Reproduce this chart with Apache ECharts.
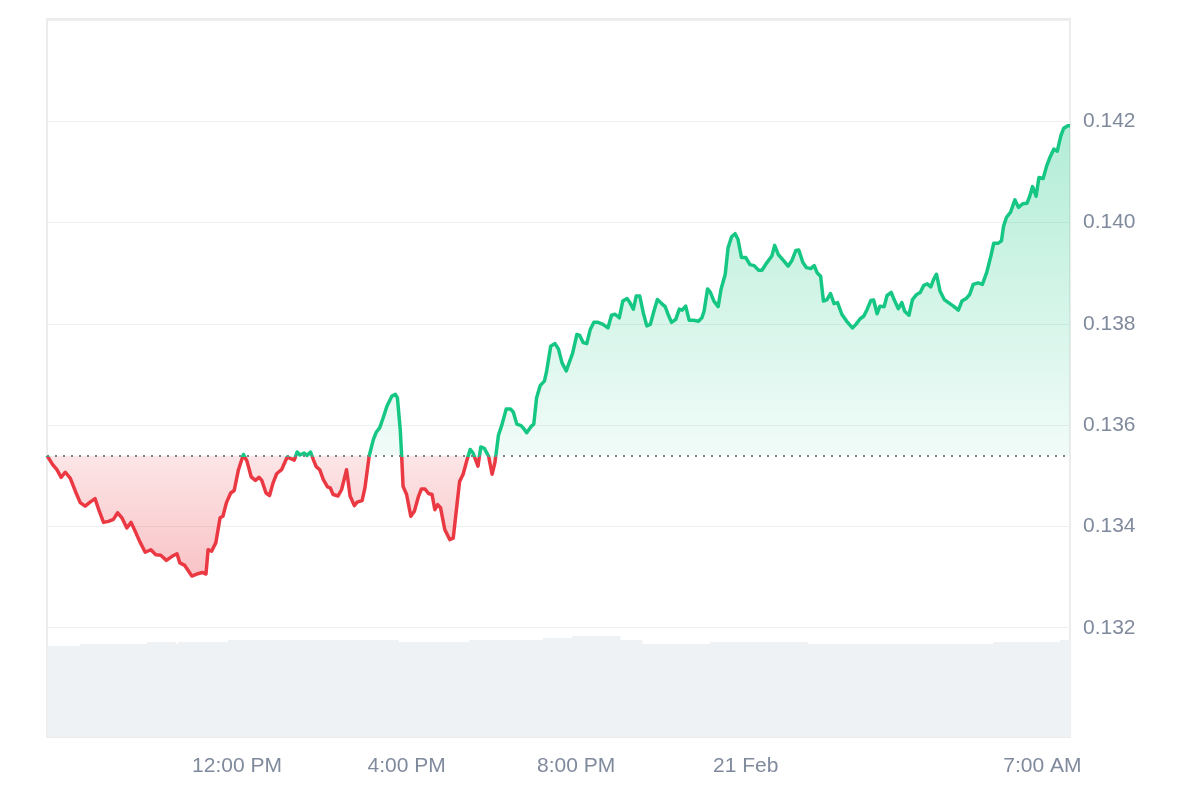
<!DOCTYPE html>
<html>
<head>
<meta charset="utf-8">
<script src="https://cdn.jsdelivr.net/npm/echarts@6/dist/echarts.min.js"></script>
<style>
html,body{margin:0;padding:0;background:#ffffff;}
#chart{width:1200px;height:800px;}
</style>
</head>
<body>
<div id="chart"></div>
<script>
// Time of each price reading, minutes since 20 Feb 00:00
const timeMinutes = [
  451, 459, 465, 471, 477, 484, 491, 498, 505, 512,
  519, 525, 531, 538, 545, 551, 557, 564, 570, 576,
  582, 590, 598, 605, 612, 620, 628, 635, 639, 646,
  656, 663, 671, 676, 679, 684, 690, 696, 700, 705,
  711, 716, 722, 729, 734, 740, 746, 751, 755, 761,
  766, 771, 776, 783, 791, 796, 801, 805, 809, 815,
  819, 824, 828, 832, 837, 842, 848, 852, 856, 863,
  868, 875, 880, 886, 890, 897, 901, 907, 913, 917,
  922, 927, 932, 939, 944, 947, 951, 953, 955, 960,
  966, 971, 977, 981, 986, 991, 996, 1000, 1004, 1008,
  1014, 1021, 1026, 1030, 1035, 1040, 1045, 1050, 1054, 1061,
  1065, 1070, 1076, 1081, 1085, 1090, 1095, 1101, 1107, 1111,
  1116, 1122, 1126, 1130, 1136, 1140, 1144, 1149, 1155, 1158,
  1164, 1170, 1175, 1180, 1186, 1190, 1195, 1201, 1205, 1210,
  1215, 1220, 1225, 1231, 1238, 1245, 1250, 1255, 1261, 1266,
  1272, 1276, 1281, 1285, 1290, 1295, 1300, 1305, 1310, 1315,
  1321, 1326, 1330, 1335, 1341, 1346, 1350, 1355, 1360, 1366,
  1373, 1378, 1381, 1386, 1390, 1395, 1401, 1405, 1411, 1415,
  1420, 1425, 1429, 1434, 1440, 1446, 1452, 1458, 1463, 1470,
  1477, 1481, 1486, 1493, 1500, 1505, 1511, 1515, 1521, 1526,
  1532, 1537, 1541, 1546, 1550, 1555, 1560, 1565, 1570, 1576,
  1583, 1591, 1596, 1602, 1607, 1612, 1617, 1621, 1626, 1630,
  1636, 1640, 1646, 1650, 1656, 1661, 1665, 1671, 1676, 1682,
  1687, 1692, 1697, 1702, 1706, 1710, 1715, 1721, 1727, 1734,
  1741, 1746, 1752, 1757, 1762, 1769, 1775, 1781, 1787, 1791,
  1797, 1802, 1805, 1809, 1815, 1821, 1826, 1832, 1838, 1842,
  1846, 1851, 1855, 1861, 1866, 1871, 1876, 1881, 1886, 1890,
  1896, 1899
];

const prices = [
  0.13540, 0.13522, 0.13512, 0.13497, 0.13507, 0.13495, 0.13470, 0.13447, 0.13440, 0.13448,
  0.13455, 0.13430, 0.13408, 0.13410, 0.13414, 0.13427, 0.13417, 0.13397, 0.13408, 0.13390,
  0.13371, 0.13349, 0.13354, 0.13344, 0.13343, 0.13333, 0.13341, 0.13346, 0.13328, 0.13323,
  0.13302, 0.13306, 0.13309, 0.13306, 0.13354, 0.13351, 0.13368, 0.13417, 0.13420, 0.13447,
  0.13466, 0.13471, 0.13512, 0.13542, 0.13529, 0.13498, 0.13491, 0.13497, 0.13491, 0.13466,
  0.13461, 0.13486, 0.13504, 0.13512, 0.13537, 0.13534, 0.13531, 0.13547, 0.13541, 0.13545,
  0.13540, 0.13547, 0.13532, 0.13518, 0.13512, 0.13493, 0.13478, 0.13476, 0.13463, 0.13460,
  0.13473, 0.13512, 0.13460, 0.13441, 0.13448, 0.13451, 0.13476, 0.13539, 0.13572, 0.13586,
  0.13595, 0.13615, 0.13637, 0.13657, 0.13661, 0.13654, 0.13591, 0.13539, 0.13479, 0.13463,
  0.13420, 0.13430, 0.13460, 0.13474, 0.13474, 0.13465, 0.13463, 0.13433, 0.13443, 0.13437,
  0.13394, 0.13374, 0.13377, 0.13427, 0.13489, 0.13503, 0.13529, 0.13552, 0.13545, 0.13519,
  0.13557, 0.13554, 0.13539, 0.13503, 0.13526, 0.13580, 0.13601, 0.13632, 0.13632, 0.13626,
  0.13602, 0.13599, 0.13593, 0.13585, 0.13597, 0.13602, 0.13654, 0.13678, 0.13687, 0.13705,
  0.13756, 0.13761, 0.13750, 0.13723, 0.13707, 0.13723, 0.13742, 0.13779, 0.13777, 0.13763,
  0.13761, 0.13789, 0.13803, 0.13803, 0.13799, 0.13792, 0.13817, 0.13819, 0.13812, 0.13845,
  0.13850, 0.13842, 0.13829, 0.13855, 0.13855, 0.13822, 0.13796, 0.13799, 0.13825, 0.13848,
  0.13840, 0.13834, 0.13819, 0.13803, 0.13809, 0.13829, 0.13827, 0.13835, 0.13807, 0.13807,
  0.13805, 0.13812, 0.13825, 0.13869, 0.13862, 0.13845, 0.13834, 0.13868, 0.13898, 0.13950,
  0.13972, 0.13978, 0.13967, 0.13931, 0.13931, 0.13917, 0.13915, 0.13906, 0.13906, 0.13921,
  0.13934, 0.13955, 0.13937, 0.13926, 0.13914, 0.13924, 0.13945, 0.13946, 0.13921, 0.13911,
  0.13909, 0.13915, 0.13901, 0.13894, 0.13845, 0.13848, 0.13860, 0.13840, 0.13842, 0.13819,
  0.13805, 0.13792, 0.13799, 0.13810, 0.13815, 0.13829, 0.13846, 0.13847, 0.13820, 0.13835,
  0.13834, 0.13856, 0.13862, 0.13848, 0.13830, 0.13842, 0.13825, 0.13817, 0.13848, 0.13858,
  0.13862, 0.13876, 0.13879, 0.13873, 0.13888, 0.13898, 0.13865, 0.13848, 0.13842, 0.13835,
  0.13827, 0.13845, 0.13850, 0.13858, 0.13878, 0.13881, 0.13878, 0.13901, 0.13934, 0.13959,
  0.13959, 0.13964, 0.13993, 0.14010, 0.14021, 0.14045, 0.14030, 0.14037, 0.14038, 0.14052,
  0.14071, 0.14052, 0.14089, 0.14087, 0.14112, 0.14130, 0.14145, 0.14141, 0.14171, 0.14186,
  0.14191, 0.14191
];

const baselinePrice = 0.13540;

// Volume (millions) per time block: start, end, level
const volumeStart  = [451, 498, 593, 632, 637, 707, 948, 1048, 1153, 1194, 1262, 1293, 1389, 1527, 1790, 1885];
const volumeEnd    = [498, 593, 632, 637, 707, 948, 1048, 1153, 1194, 1262, 1293, 1389, 1527, 1790, 1885, 1899];
const volumeValues = [45.5, 46.5, 47.5, 46.5, 47.5, 48.5, 47.5, 48.5, 49.5, 50.5, 48.5, 46.5, 47.5, 46.5, 47.5, 48.5];

const xTickMinutes = [720, 960, 1200, 1440, 1860];
const xTickLabels  = ['12:00 PM', '4:00 PM', '8:00 PM', '21 Feb', '7:00 AM'];

const timeMin = 451, timeMax = 1899;
const priceMin = 0.130, priceMax = 0.144, priceStep = 0.002;
const volumeAxisMax = 359;

const GREEN = '#16c784', RED = '#ea3943';
const LABEL_COLOR = '#808a9d';
const FONT = '"Liberation Sans", Arial, Helvetica, sans-serif';

const maxP = Math.max(...prices), minP = Math.min(...prices);
const f = (maxP - baselinePrice) / (maxP - minP);

const lineGrad = new echarts.graphic.LinearGradient(0, 0, 0, 1, [
  { offset: 0, color: GREEN }, { offset: f, color: GREEN },
  { offset: f, color: RED }, { offset: 1, color: RED }
]);
const areaGrad = new echarts.graphic.LinearGradient(0, 0, 0, 1, [
  { offset: 0, color: 'rgba(22,199,132,0.33)' },
  { offset: f, color: 'rgba(22,199,132,0.06)' },
  { offset: f, color: 'rgba(234,57,67,0.13)' },
  { offset: 1, color: 'rgba(234,57,67,0.30)' }
]);

const chart = echarts.init(document.getElementById('chart'), null, { renderer: 'canvas' });
chart.setOption({
  animation: false,
  backgroundColor: '#ffffff',
  grid: [
    { left: 47, right: 130, top: 20, bottom: 71, show: false },
    { left: 47, right: 130, top: 19, bottom: 63, show: true, borderColor: '#ececec', borderWidth: 2 }
  ],
  xAxis: [
    { type: 'value', gridIndex: 0, min: timeMin, max: timeMax, show: false, splitLine: { show: false } },
    {
      type: 'value', gridIndex: 1, min: timeMin, max: timeMax,
      axisLine: { show: false }, axisTick: { show: false }, splitLine: { show: false },
      axisLabel: {
        customValues: xTickMinutes,
        formatter: function (v) { const i = xTickMinutes.indexOf(v); return i >= 0 ? xTickLabels[i] : ''; },
        color: LABEL_COLOR, fontSize: 21, fontFamily: FONT, margin: 19
      }
    }
  ],
  yAxis: [
    {
      type: 'value', gridIndex: 0, position: 'right', min: priceMin, max: priceMax, interval: priceStep,
      axisLine: { show: false }, axisTick: { show: false },
      splitLine: { show: true, lineStyle: { color: '#efefef', width: 1 } },
      axisLabel: {
        showMinLabel: false, showMaxLabel: false,
        formatter: function (v) { return v.toFixed(3); },
        color: LABEL_COLOR, fontSize: 21, fontFamily: FONT, margin: 13, padding: [4, 0, 0, 0]
      }
    },
    { type: 'value', gridIndex: 1, min: 0, max: volumeAxisMax, show: false, splitLine: { show: false } }
  ],
  series: [
    {
      name: 'Volume', type: 'custom', xAxisIndex: 1, yAxisIndex: 1, silent: true, z: 1,
      encode: { x: [0, 1], y: 2 },
      data: volumeStart.map((s, i) => [s, volumeEnd[i], volumeValues[i]]),
      renderItem: function (params, api) {
        const p0 = api.coord([api.value(0), 0]);
        const p1 = api.coord([api.value(1), api.value(2)]);
        const x0 = Math.round(p0[0]), x1 = Math.round(p1[0]);
        return {
          type: 'rect',
          shape: { x: x0, y: Math.round(p1[1]), width: x1 - x0 + 0.5, height: Math.round(p0[1]) - Math.round(p1[1]) },
          style: { fill: '#eff2f5' }
        };
      }
    },
    {
      name: 'Price', type: 'line', xAxisIndex: 0, yAxisIndex: 0,
      symbol: 'none', smooth: false, z: 3,
      lineStyle: { width: 3.5, color: lineGrad, join: 'round' },
      areaStyle: { color: areaGrad, origin: baselinePrice, opacity: 1 },
      data: timeMinutes.map((t, i) => [t, prices[i]]),
      markLine: {
        silent: true, symbol: 'none', animation: false, precision: 6,
        label: { show: false },
        lineStyle: { color: '#7c828d', type: [2, 6], width: 2 },
        data: [{ yAxis: baselinePrice }]
      }
    }
  ]
});
</script>
</body>
</html>
